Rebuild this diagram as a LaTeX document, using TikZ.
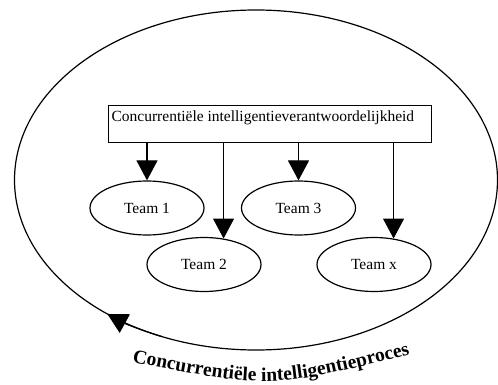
\documentclass[tikz,border=0pt]{standalone}
\usepackage{fontspec}
\setmainfont{Liberation Serif}
\usetikzlibrary{shapes.geometric,arrows.meta,decorations.text}
\begin{document}
\begin{tikzpicture}[x=1pt,y=-1pt,
  line width=1.2pt,
  team/.style={draw, ellipse, minimum width=114pt, minimum height=54pt,
    inner sep=0pt, font=\fontsize{15.5}{18}\selectfont},
  arr/.style={-{Triangle[width=21pt,length=20pt]}},
]
\useasboundingbox (0,0) rectangle (498,385);

% the surrounding process cycle
\node[draw, ellipse, minimum width=483pt, minimum height=340pt, inner sep=0pt] (cycle) at (256,180) {};
\draw[arr] (cycle.center) ++(113:241.5 and 170)
  arc[start angle=113, end angle=128, x radius=241.5, y radius=170];

% responsibility box
\node[draw, line width=1.4pt, minimum width=323pt, minimum height=37pt,
  inner sep=0pt, anchor=north west] (resp) at (108,105) {};
\node[anchor=base west, inner sep=0pt, font=\fontsize{15.5}{18}\selectfont]
  (resptext) at (111,122) {Concurrentiële intelligentieverantwoordelijkheid};

% teams
\node[team] (t1) at (147,208) {Team 1};
\node[team] (t3) at (298.5,208) {Team 3};
\node[team] (t2) at (204,264.5) {Team 2};
\node[team] (tx) at (374,264.5) {Team x};

% assignment arrows
\draw[arr] (resp.south -| t1.north) -- (t1.north);
\draw[arr] (resp.south -| t2.53) -- (t2.53);
\draw[arr] (resp.south -| t3.north) -- (t3.north);
\draw[arr] (resp.south -| tx.53) -- (tx.53);

% curved caption
\path[decorate, decoration={text along path, text align=center,
  text={|\fontsize{19.5}{19.5}\selectfont\bfseries|Concurrentiële intelligentieproces}}]
  (126,361) .. controls (270,389) .. (416,353);
\end{tikzpicture}
\end{document}
